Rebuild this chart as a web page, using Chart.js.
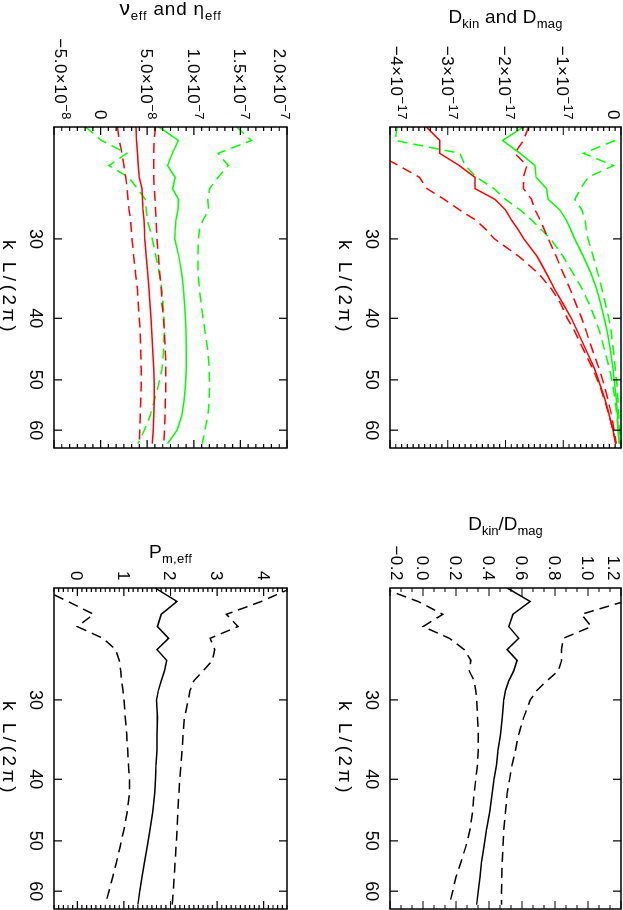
<!DOCTYPE html>
<html>
<head>
<meta charset="utf-8">
<script src="https://cdn.jsdelivr.net/npm/chart.js@4.4.1/dist/chart.umd.min.js"></script>
<style>
html, body { margin: 0; padding: 0; background: #fff; overflow: hidden; }
/* the figure is landscape, the page shows it turned a quarter turn clockwise */
#page { position: absolute; left: 0; top: 0; width: 910px; height: 623px;
        transform-origin: 0 0; transform: translate(623px, 0) rotate(90deg); background: #fff; }
#page canvas { position: absolute; }
</style>
</head>
<body>
<div id="page">
  <canvas id="cDiss"  width="460" height="311" style="left:0;top:0;width:460px;height:311px"></canvas>
  <canvas id="cRatio" width="450" height="311" style="left:460px;top:0;width:450px;height:311px"></canvas>
  <canvas id="cVisc"  width="460" height="312" style="left:0;top:311px;width:460px;height:312px"></canvas>
  <canvas id="cPm"    width="450" height="312" style="left:460px;top:311px;width:450px;height:312px"></canvas>
</div>
<script>
// wavenumbers k L/(2pi)
var kVals = [20, 21, 22, 23, 24, 25, 26, 27, 28, 29, 30, 32, 34, 36, 38, 40, 42, 45, 48, 51, 54, 57, 60, 63];
var kTicks = [30, 40, 50, 60];

// D_kin and D_mag (units of 1e-17)
var dRed     = [-3.37, -3.14, -3.14, -2.80, -2.53, -2.53, -2.18, -2.00, -1.90, -1.78, -1.68, -1.45, -1.29, -1.15, -1.00, -0.86, -0.75, -0.60, -0.46, -0.36, -0.27, -0.20, -0.14, -0.09];
var dRedLo   = [-4.60, -4.45, -4.25, -3.85, -3.49, -3.36, -3.06, -2.80, -2.52, -2.34, -2.19, -1.76, -1.43, -1.20, -1.04, -0.93, -0.80, -0.64, -0.49, -0.37, -0.28, -0.20, -0.14, -0.09];
var dRedHi   = [-1.60, -1.69, -1.84, -1.63, -1.69, -1.69, -1.55, -1.49, -1.40, -1.33, -1.26, -1.12, -1.00, -0.88, -0.78, -0.68, -0.60, -0.49, -0.38, -0.29, -0.22, -0.16, -0.12, -0.08];
var dGreen   = [-1.69, -2.05, -1.75, -1.49, -1.47, -1.29, -1.26, -1.06, -0.95, -0.87, -0.80, -0.65, -0.52, -0.42, -0.35, -0.29, -0.24, -0.18, -0.14, -0.11, -0.08, -0.06, -0.05, -0.03];
var dGreenLo = [-3.88, -3.91, -2.79, -2.70, -2.50, -2.20, -2.00, -1.75, -1.55, -1.38, -1.22, -1.00, -0.83, -0.67, -0.55, -0.45, -0.37, -0.28, -0.20, -0.14, -0.10, -0.07, -0.05, -0.03];
var dGreenHi = [0.40, -0.10, -0.65, -0.13, -0.57, -0.70, -0.80, -0.68, -0.62, -0.60, -0.57, -0.48, -0.40, -0.33, -0.27, -0.21, -0.17, -0.13, -0.10, -0.07, -0.05, -0.04, -0.03, -0.02];
var dTicks  = [-4, -3, -2, -1, 0];
var dLabels = ['\u22124\u00d710^\u221217', '\u22123\u00d710^\u221217', '\u22122\u00d710^\u221217', '\u22121\u00d710^\u221217', '0'];

// nu_eff and eta_eff (units of 1e-8)
var vRed     = [3.80, 3.85, 3.95, 4.05, 4.15, 4.45, 4.50, 4.55, 4.65, 4.70, 4.75, 4.90, 5.05, 5.20, 5.30, 5.40, 5.50, 5.60, 5.70, 5.75, 5.75, 5.70, 5.65, 5.55];
var vRedLo   = [1.80, 2.00, 2.30, 2.50, 2.70, 2.85, 2.95, 3.05, 3.20, 3.30, 3.38, 3.55, 3.75, 3.95, 4.05, 4.15, 4.25, 4.30, 4.35, 4.35, 4.30, 4.25, 4.20, 4.15];
var vRedHi   = [5.90, 5.75, 5.70, 5.70, 5.70, 5.75, 5.85, 5.90, 5.95, 6.00, 6.05, 6.20, 6.35, 6.50, 6.60, 6.75, 6.85, 6.95, 7.00, 7.00, 6.95, 6.90, 6.85, 6.80];
var vGreen   = [6.25, 8.35, 7.70, 7.19, 8.00, 7.73, 8.35, 8.30, 8.10, 8.00, 7.95, 8.40, 8.70, 8.90, 9.00, 9.10, 9.15, 9.20, 9.20, 9.10, 8.95, 8.70, 8.20, 7.20];
var vGreenLo = [-1.60, 0.10, 2.80, 0.90, 3.00, 3.95, 4.80, 4.90, 5.00, 5.30, 5.55, 5.95, 6.30, 6.55, 6.70, 6.80, 6.82, 6.75, 6.60, 6.20, 5.75, 5.30, 4.70, 4.00];
var vGreenHi = [14.6, 16.2, 12.6, 13.7, 12.6, 11.7, 11.5, 11.6, 11.0, 10.6, 10.5, 10.45, 10.45, 10.6, 10.8, 11.0, 11.2, 11.5, 11.65, 11.7, 11.65, 11.5, 11.2, 10.9];
var vTicks  = [-5, 0, 5, 10, 15, 20];
var vLabels = ['\u22125.0\u00d710^\u22128', '0', '5.0\u00d710^\u22128', '1.0\u00d710^\u22127', '1.5\u00d710^\u22127', '2.0\u00d710^\u22127'];

// D_kin / D_mag
var rMid = [0.51, 0.65, 0.545, 0.52, 0.58, 0.51, 0.57, 0.55, 0.52, 0.50, 0.49, 0.48, 0.47, 0.455, 0.445, 0.43, 0.42, 0.405, 0.385, 0.37, 0.355, 0.345, 0.335, 0.325];
var rLo  = [-0.25, -0.03, 0.12, 0.00, 0.16, 0.25, 0.29, 0.28, 0.31, 0.32, 0.325, 0.33, 0.335, 0.335, 0.33, 0.32, 0.31, 0.30, 0.285, 0.26, 0.23, 0.20, 0.18, 0.16];
var rHi  = [1.50, 1.22, 0.96, 1.02, 0.85, 0.84, 0.84, 0.82, 0.75, 0.69, 0.65, 0.61, 0.58, 0.56, 0.54, 0.525, 0.51, 0.50, 0.49, 0.485, 0.48, 0.478, 0.476, 0.476];
var rTicks  = [-0.2, 0, 0.2, 0.4, 0.6, 0.8, 1.0, 1.2];
var rLabels = ['\u22120.2', '0.0', '0.2', '0.4', '0.6', '0.8', '1.0', '1.2'];

// P_m,eff
var pMid = [1.67, 2.14, 1.80, 1.72, 1.96, 1.71, 1.92, 1.87, 1.80, 1.74, 1.70, 1.72, 1.71, 1.71, 1.69, 1.68, 1.66, 1.62, 1.56, 1.50, 1.44, 1.39, 1.34, 1.30];
var pLo  = [-0.80, -0.20, 0.35, 0.00, 0.55, 0.82, 0.90, 0.93, 0.95, 0.98, 1.00, 1.03, 1.06, 1.08, 1.10, 1.12, 1.12, 1.07, 1.00, 0.92, 0.84, 0.76, 0.68, 0.60];
var pHi  = [4.60, 3.95, 3.20, 3.45, 2.85, 2.95, 2.90, 2.70, 2.50, 2.42, 2.38, 2.30, 2.27, 2.25, 2.22, 2.20, 2.18, 2.16, 2.14, 2.12, 2.10, 2.08, 2.06, 2.04];
var pTicks  = [0, 1, 2, 3, 4];
var pLabels = ['0', '1', '2', '3', '4'];

var FONT = "'Liberation Sans', Arial, Helvetica, sans-serif";
var RED = '#ff0000', GREEN = '#00ff00', BLACK = '#000000';
var frames = {};   // per canvas: ticks, title, etc.

function setSpacing(ctx, px) {
    if ('letterSpacing' in ctx) ctx.letterSpacing = px + 'px';
}

// text made of pieces [string, size, baseline shift]; align 'center' or 'right'
function drawRich(ctx, parts, x, y, align) {
    var w = 0;
    parts.forEach(function (p) {
        ctx.font = p[1] + 'px ' + FONT;
        w += ctx.measureText(p[0]).width;
    });
    var cx = align === 'right' ? x - w : x - w / 2;
    parts.forEach(function (p) {
        ctx.font = p[1] + 'px ' + FONT;
        ctx.fillText(p[0], cx, y + p[2]);
        cx += ctx.measureText(p[0]).width;
    });
}

// "a^b" -> base and raised exponent
function tickParts(s) {
    var bits = s.split('^');
    var parts = [[bits[0], 17, 0]];
    if (bits[1]) parts.push([bits[1], 13, -7]);
    return parts;
}

// box, inward ticks, tick labels and axis titles, IDL style
var framePlugin = {
    id: 'frame',
    afterDatasetsDraw: function (chart) {
        var f = frames[chart.canvas.id];
        var ctx = chart.ctx, a = chart.chartArea;
        var xs = chart.scales.x, ys = chart.scales.y;
        ctx.save();
        ctx.strokeStyle = '#000';
        ctx.fillStyle = '#000';
        ctx.lineWidth = 1.5;
        ctx.strokeRect(a.left, a.top, a.right - a.left, a.bottom - a.top);

        ctx.lineWidth = 1.2;
        ctx.beginPath();
        kTicks.forEach(function (v) {
            var px = xs.getPixelForValue(v);
            ctx.moveTo(px, a.bottom); ctx.lineTo(px, a.bottom - 8);
            ctx.moveTo(px, a.top);    ctx.lineTo(px, a.top + 8);
        });
        var n = Math.round((f.max - f.min) / f.minor);
        for (var i = 0; i <= n; i++) {
            var v = f.min + i * (f.max - f.min) / n;
            var major = f.ticks.some(function (t) { return Math.abs(t - v) < 1e-6; });
            var len = major ? 8 : 4;
            var py = ys.getPixelForValue(v);
            ctx.moveTo(a.left, py);  ctx.lineTo(a.left + len, py);
            ctx.moveTo(a.right, py); ctx.lineTo(a.right - len, py);
        }
        ctx.stroke();

        ctx.textAlign = 'left';
        ctx.textBaseline = 'alphabetic';

        // y tick labels at the scale's tick positions; the two end ones sit a little inside
        setSpacing(ctx, 0.5);
        ys.ticks.forEach(function (t, i) {
            var py = ys.getPixelForValue(t.value);
            if (Math.abs(t.value - f.min) < 1e-6) py -= 7;
            if (Math.abs(t.value - f.max) < 1e-6) py += 7;
            drawRich(ctx, tickParts(f.labels[i]), a.left - 7, py + 6, 'right');
        });

        // x title
        setSpacing(ctx, 3.5);
        drawRich(ctx, [['k L/(2\u03c0)', 19, 0]], (a.left + a.right) / 2, a.bottom + 51, 'center');

        // y title, turned to read upwards
        setSpacing(ctx, f.titleGap);
        ctx.translate(f.titleX, (a.top + a.bottom) / 2);
        ctx.rotate(-Math.PI / 2);
        drawRich(ctx, f.title, 0, 0, 'center');
        ctx.restore();
    }
};

function makePanel(id, box, yMin, yMax, yTicks, yLabels, minor, title, titleX, titleGap, series) {
    var cv = document.getElementById(id);
    var W = cv.width, H = cv.height;
    frames[id] = { min: yMin, max: yMax, ticks: yTicks, labels: yLabels, minor: minor,
                   title: title, titleX: titleX, titleGap: titleGap };
    new Chart(cv, {
        type: 'line',
        data: {
            datasets: series.map(function (s) {
                return {
                    data: kVals.map(function (k, i) { return { x: k, y: s.values[i] }; }),
                    borderColor: s.color,
                    borderWidth: 1.5,
                    borderDash: s.dash ? [10, 6] : [],
                    pointRadius: 0,
                    tension: 0,
                    fill: false
                };
            })
        },
        options: {
            responsive: false,
            animation: false,
            devicePixelRatio: 1,
            layout: { padding: { left: 0, top: box.t, right: W - box.r, bottom: 0 } },
            plugins: { legend: { display: false }, tooltip: { enabled: false } },
            scales: {
                x: {
                    type: 'logarithmic', min: 20, max: 64,
                    afterBuildTicks: function (s) { s.ticks = kTicks.map(function (v) { return { value: v }; }); },
                    afterFit: function (s) { s.height = H - box.b; },
                    grid: { display: false, drawTicks: false },
                    border: { display: false },
                    ticks: {
                        callback: function (v) { return String(v); },
                        font: { family: FONT, size: 18 }, color: '#000',
                        padding: 8, autoSkip: false, maxRotation: 0, minRotation: 0
                    }
                },
                y: {
                    type: 'linear', min: yMin, max: yMax,
                    afterBuildTicks: function (s) { s.ticks = yTicks.map(function (v) { return { value: v }; }); },
                    afterFit: function (s) { s.width = box.l; },
                    grid: { display: false, drawTicks: false },
                    border: { display: false },
                    ticks: { display: false, autoSkip: false }
                }
            }
        },
        plugins: [framePlugin]
    });
}

makePanel('cDiss', { l: 127, t: 2, r: 448, b: 233 }, -4, 0, dTicks, dLabels, 0.1,
    [['D', 19, 0], ['kin', 13, 5], [' and D', 19, 0], ['mag', 13, 5]], 23, 0.2, [
        { values: dRed, color: RED }, { values: dRedLo, color: RED, dash: true }, { values: dRedHi, color: RED, dash: true },
        { values: dGreen, color: GREEN }, { values: dGreenLo, color: GREEN, dash: true }, { values: dGreenHi, color: GREEN, dash: true }
    ]);

makePanel('cRatio', { l: 128, t: 2, r: 449, b: 233 }, -0.2, 1.2, rTicks, rLabels, 0.2 / 3,
    [['D', 19, 0], ['kin', 13, 5], ['/D', 19, 0], ['mag', 13, 5]], 70, 0, [
        { values: rMid, color: BLACK }, { values: rLo, color: BLACK, dash: true }, { values: rHi, color: BLACK, dash: true }
    ]);

makePanel('cVisc', { l: 127, t: 25, r: 448, b: 258 }, -5, 20, vTicks, vLabels, 5 / 6,
    [['\u03bd', 21, 0], ['eff', 13, 5], [' and \u03b7', 19, 0], ['eff', 13, 5]], 15, 0.8, [
        { values: vRed, color: RED }, { values: vRedLo, color: RED, dash: true }, { values: vRedHi, color: RED, dash: true },
        { values: vGreen, color: GREEN }, { values: vGreenLo, color: GREEN, dash: true }, { values: vGreenHi, color: GREEN, dash: true }
    ]);

makePanel('cPm', { l: 128, t: 25, r: 449, b: 258 }, -0.5, 4.5, pTicks, pLabels, 0.1,
    [['P', 19, 0], ['m,eff', 13, 5]], 98, 0.3, [
        { values: pMid, color: BLACK }, { values: pLo, color: BLACK, dash: true }, { values: pHi, color: BLACK, dash: true }
    ]);
</script>
</body>
</html>
